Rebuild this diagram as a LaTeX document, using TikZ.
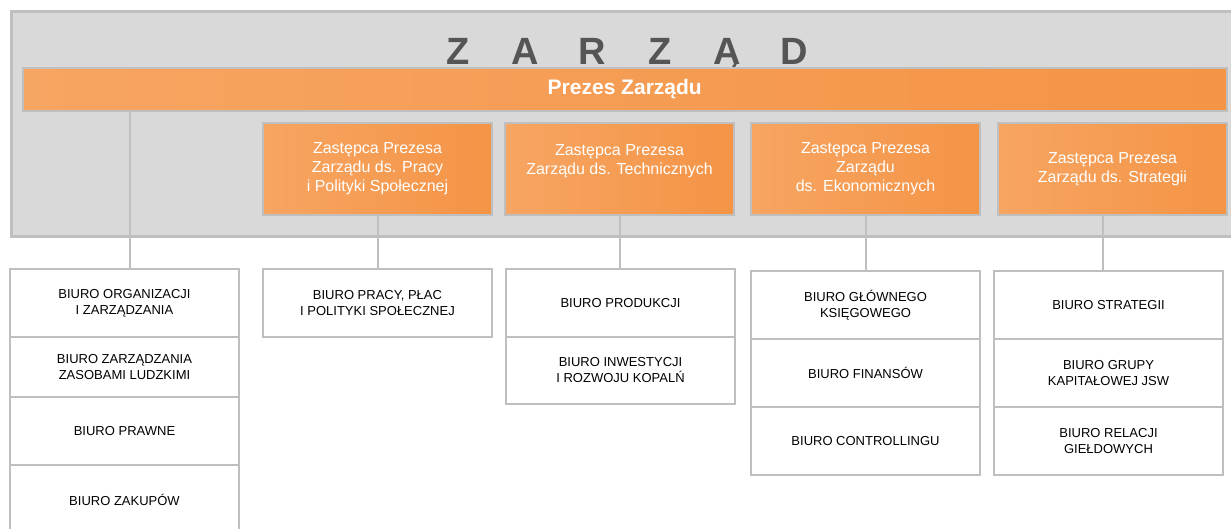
\documentclass[tikz,border=0pt]{standalone}
\usepackage{fontspec}
\setmainfont{Liberation Sans}
\usetikzlibrary{positioning}

\definecolor{boardgray}{HTML}{D9D9D9}
\definecolor{linegray}{HTML}{BFBFBF}
\definecolor{titlegray}{HTML}{555555}
\definecolor{orangelight}{HTML}{F7A562}
\definecolor{orangedark}{HTML}{F49446}

\tikzset{
  deputy/.style={draw=linegray, line width=1.5pt, left color=orangelight, right color=orangedark, text=white, align=center, anchor=north west, minimum width=229pt, minimum height=92pt, inner sep=0pt, outer sep=0pt, font=\fontsize{16}{19}\selectfont},
  office/.style={draw=linegray, line width=1.5pt, fill=white, align=center, minimum width=229pt, minimum height=68pt, inner sep=0pt, outer sep=0pt, font=\fontsize{13}{16}\selectfont},
  board letter/.style={anchor=base, text=titlegray, font=\bfseries\fontsize{38}{40}\selectfont},
  link/.style={draw=linegray, line width=2pt}
}

\begin{document}
\begin{tikzpicture}[x=1pt, y=-1pt]
\useasboundingbox (0,0) rectangle (1231,528);
\clip (0,0) rectangle (1231,528);

% board frame
\draw [draw=linegray, fill=boardgray, line width=3pt] (11.5,11.5) rectangle (1245,236);
\foreach \ch [count=\i] in {Z,A,R,Z,Ą,D}
  \node (board\i) [board letter] at (458+67.2*\i-67.2, 64) {\ch};

\node (prezes) [draw=linegray, line width=1.5pt, left color=orangelight, right color=orangedark, text=white, anchor=north west, minimum width=1204pt, minimum height=43pt, inner sep=0pt, font=\bfseries\fontsize{21}{25}\selectfont] at (22,67) {Prezes Zarządu};

% deputies
\node (zpracy) [deputy] at (263,123) {Zastępca Prezesa\\Zarządu ds. Pracy\\i Polityki Społecznej};
\node (ztech) [deputy] at (505,123) {Zastępca Prezesa\\Zarządu ds. Technicznych\\~};
\node (zekon) [deputy] at (751,123) {Zastępca Prezesa\\Zarządu\\ds. Ekonomicznych};
\node (zstrat) [deputy] at (998,123) {Zastępca Prezesa\\Zarządu ds. Strategii};

% offices under the president
\node (borg) [office, anchor=north west] at (10,269) {BIURO ORGANIZACJI\\I ZARZĄDZANIA};
\node (bzzl) [office, below=0pt of borg, minimum height=60pt] {BIURO ZARZĄDZANIA\\ZASOBAMI LUDZKIMI};
\node (bpraw) [office, below=0pt of bzzl] {BIURO PRAWNE};
\node (bzak) [office, below=0pt of bpraw, minimum height=70pt] {BIURO ZAKUPÓW};

\node (bpracy) [office, anchor=north west] at (263,269) {BIURO PRACY, PŁAC\\I POLITYKI SPOŁECZNEJ};

\node (bprod) [office, anchor=north west] at (506,269) {BIURO PRODUKCJI};
\node (binw) [office, below=0pt of bprod, minimum height=67pt] {BIURO INWESTYCJI\\I ROZWOJU KOPALŃ};

\node (bgk) [office, anchor=north west] at (751,271) {BIURO GŁÓWNEGO\\KSIĘGOWEGO};
\node (bfin) [office, below=0pt of bgk] {BIURO FINANSÓW};
\node (bctrl) [office, below=0pt of bfin] {BIURO CONTROLLINGU};

\node (bstrat) [office, anchor=north west] at (994,271) {BIURO STRATEGII};
\node (bgrupy) [office, below=0pt of bstrat] {BIURO GRUPY\\KAPITAŁOWEJ JSW};
\node (brel) [office, below=0pt of bgrupy] {BIURO RELACJI\\GIEŁDOWYCH};

% connectors
\draw [link] ([xshift=5.5pt]borg.north |- prezes.south) -- ([xshift=5.5pt]borg.north);
\draw [link] (zpracy.south) -- (zpracy.south |- bpracy.north);
\draw [link] (ztech.south) -- (ztech.south |- bprod.north);
\draw [link] (zekon.south) -- (zekon.south |- bgk.north);
\draw [link] ([xshift=-9.5pt]zstrat.south) -- ([xshift=-9.5pt]zstrat.south |- bstrat.north);

\end{tikzpicture}
\end{document}
